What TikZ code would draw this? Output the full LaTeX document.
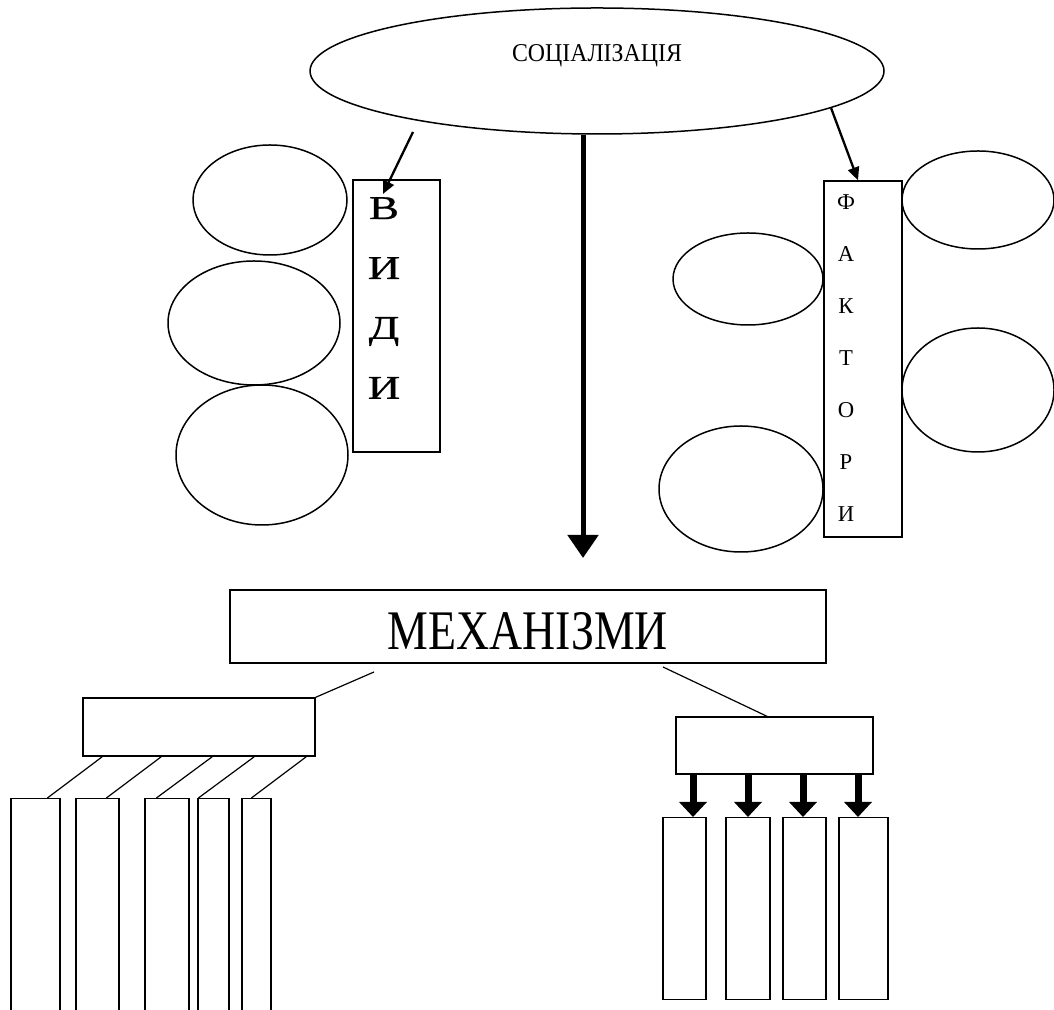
\documentclass[tikz,border=0pt]{standalone}
\usepackage{fontspec}
\setmainfont{Liberation Serif}
\newfontfamily\widefont[FakeStretch=1.35,FakeBold=0.8]{Liberation Serif}
\newfontfamily\narrowfont[FakeStretch=0.82]{Liberation Serif}
\newfontfamily\softnarrowfont[FakeStretch=0.93]{Liberation Serif}
\usetikzlibrary{shapes.geometric,arrows.meta,calc}

\begin{document}
\begin{tikzpicture}[
    oval/.style={draw,ellipse,line width=0.030000cm,inner sep=0pt},
    frame/.style={draw,rectangle,line width=0.028000cm,inner sep=0pt},
    column/.style={draw,rectangle,line width=0.024000cm,inner sep=0pt,anchor=north},
    link/.style={line width=0.024000cm},
    thinarrow/.style={line width=0.046000cm,-{Triangle[length=0.260000cm,width=0.230000cm]}},
    bigarrow/.style={line width=0.100000cm,-{Triangle[length=0.460000cm,width=0.600000cm]}},
    fatarrow/.style={line width=0.140000cm,-{Triangle[length=0.300000cm,width=0.540000cm]}}]
                \useasboundingbox (0,0) rectangle (21.080000,20.180000);%

                % Drawing oval socialization
                \node[oval,minimum width=11.480000cm,minimum height=2.520000cm] (soc) at (11.940000,18.760000) {};%
                \node[text depth=0pt,font=\softnarrowfont\fontsize{14.6}{17}\selectfont] (soctext) at (11.940000,19.110000) {СОЦІАЛІЗАЦІЯ};%

                % Drawing box vydy
                \node[frame,minimum width=1.740000cm,minimum height=5.440000cm] (vydy) at (7.930000,13.860000) {};%
                \node[align=center,font=\widefont\fontsize{18.9}{34.1}\selectfont] (vydyletters) at (7.680000,14.220000) {В\\И\\Д\\И};%

                % Drawing ovals beside vydy
                \node[oval,minimum width=3.080000cm,minimum height=2.200000cm] (vydyoval1) at (5.400000,16.180000) {};%
                \node[oval,minimum width=3.440000cm,minimum height=2.480000cm] (vydyoval2) at (5.080000,13.720000) {};%
                \node[oval,minimum width=3.440000cm,minimum height=2.800000cm] (vydyoval3) at (5.240000,11.080000) {};%

                % Drawing box faktory
                \node[frame,minimum width=1.560000cm,minimum height=7.120000cm] (faktory) at (17.260000,13.000000) {};%
                \node[align=center,font=\fontsize{12.9}{29.6}\selectfont] (faktoryletters) at (16.920000,13.020000) {Ф\\А\\К\\Т\\О\\Р\\И};%

                % Drawing ovals beside faktory
                \node[oval,minimum width=3.040000cm,minimum height=1.960000cm] (faktoryoval1) at (19.560000,16.180000) {};%
                \node[oval,minimum width=3.000000cm,minimum height=1.840000cm] (faktoryoval2) at (14.960000,14.600000) {};%
                \node[oval,minimum width=3.040000cm,minimum height=2.480000cm] (faktoryoval3) at (19.560000,12.380000) {};%
                \node[oval,minimum width=3.280000cm,minimum height=2.520000cm] (faktoryoval4) at (14.820000,10.400000) {};%

                % Drawing arrows from socialization
                \coordinate (vydystart) at (8.260000,17.540000);%
                \coordinate (vydytip) at (7.660000,16.300000);%
                \draw[thinarrow] (vydystart) -- (vydytip);%
                \draw[thinarrow] (soc.-9.6) -- ([xshift=-0.100000cm]faktory.north);%
                \coordinate (mechtip) at (11.660000,9.020000);%
                \draw[bigarrow] ([xshift=-0.280000cm]soc.south) -- (mechtip);%

                % Drawing box mechanisms
                \node[frame,minimum width=11.920000cm,minimum height=1.460000cm,text height=0.940000cm,font=\narrowfont\fontsize{31.8}{36}\selectfont] (mech) at (10.560000,7.650000) {МЕХАНІЗМИ};%

                % Drawing boxes under mechanisms
                \node[frame,minimum width=4.640000cm,minimum height=1.160000cm] (mechleft) at (3.980000,5.640000) {};%
                \node[frame,minimum width=3.940000cm,minimum height=1.140000cm] (mechright) at (15.490000,5.270000) {};%
                \coordinate (mechleftstart) at (7.480000,6.740000);%
                \coordinate (mechrightstart) at (13.260000,6.840000);%
                \draw[link] (mechleftstart) -- (mechleft.north east);%
                \draw[link] (mechrightstart) -- ([xshift=-0.150000cm]mechright.north);%

                % Drawing left columns
                \node[column,minimum width=0.980000cm,minimum height=4.640000cm] (left1) at (0.710000,4.220000) {};%
                \node[column,minimum width=0.860000cm,minimum height=4.640000cm] (left2) at (1.950000,4.220000) {};%
                \node[column,minimum width=0.880000cm,minimum height=4.640000cm] (left3) at (3.340000,4.220000) {};%
                \node[column,minimum width=0.620000cm,minimum height=4.640000cm] (left4) at (4.270000,4.220000) {};%
                \node[column,minimum width=0.580000cm,minimum height=4.640000cm] (left5) at (5.130000,4.220000) {};%
                \draw[link] ($(mechleft.south west)+(0.400000,0)$) -- ($(left1.north west)+(0.740000,0)$);%
                \draw[link] ($(mechleft.south west)+(1.580000,0)$) -- ($(left2.north west)+(0.620000,0)$);%
                \draw[link] ($(mechleft.south west)+(2.600000,0)$) -- ($(left3.north west)+(0.240000,0)$);%
                \draw[link] ($(mechleft.south west)+(3.440000,0)$) -- ($(left4.north west)+(0.020000,0)$);%
                \draw[link] ($(mechleft.south west)+(4.480000,0)$) -- ($(left5.north west)+(0.200000,0)$);%

                % Drawing right columns
                \node[column,minimum width=0.860000cm,minimum height=3.640000cm] (right1) at (13.690000,3.840000) {};%
                \node[column,minimum width=0.880000cm,minimum height=3.640000cm] (right2) at (14.960000,3.840000) {};%
                \node[column,minimum width=0.860000cm,minimum height=3.640000cm] (right3) at (16.090000,3.840000) {};%
                \node[column,minimum width=0.980000cm,minimum height=3.640000cm] (right4) at (17.270000,3.840000) {};%
                \draw[fatarrow] ([xshift=0.170000cm]right1.north |- mechright.south) -- ([xshift=0.170000cm]right1.north);%
                \draw[fatarrow] (right2.north |- mechright.south) -- (right2.north);%
                \draw[fatarrow] ([xshift=-0.030000cm]right3.north |- mechright.south) -- ([xshift=-0.030000cm]right3.north);%
                \draw[fatarrow] ([xshift=-0.110000cm]right4.north |- mechright.south) -- ([xshift=-0.110000cm]right4.north);%
\end{tikzpicture}
\end{document}
